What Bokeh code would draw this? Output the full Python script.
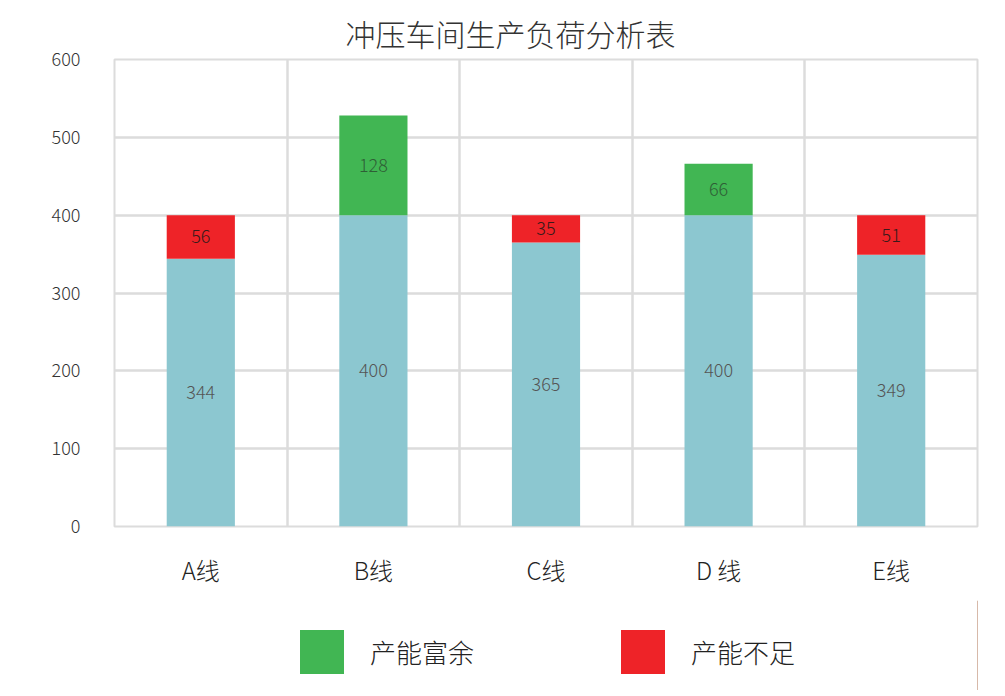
from bokeh.plotting import figure
from bokeh.models import ColumnDataSource, FixedTicker, Legend, LegendItem
from bokeh.layouts import column
from bokeh.core.properties import value
from bokeh.embed import file_html
from bokeh.resources import INLINE

lines = ["A线", "B线", "C线", "D 线", "E线"]
base = [344, 400, 365, 400, 349]
surplus = [0, 128, 0, 66, 0]
shortage = [56, 0, 35, 0, 51]
y_ticks = [0, 100, 200, 300, 400, 500, 600]
legend_labels = ["产能富余", "产能不足"]

FONT = "'Noto Sans CJK SC Light', 'Lato', 'Noto Sans CJK SC', sans-serif"
C_BASE = "#8CC7D0"
C_SUR = "#41B653"
C_SHO = "#EE2328"
GRID = "#DCDCDC"

xs = [i + 0.5 for i in range(len(lines))]

p = figure(x_range=(0, len(lines)), y_range=(0, 600),
           width=1000, height=600,
           min_border_left=114, min_border_right=23, min_border_top=59, min_border_bottom=74,
           output_backend="svg", toolbar_location=None,
           title="冲压车间生产负荷分析表")
p.title.text_font = FONT
p.title.text_font_size = "30px"
p.title.text_font_style = "normal"
p.title.text_color = "#333333"
p.title.align = "left"
p.title.offset = 231
p.title.standoff = 10

p.background_fill_color = "white"
p.border_fill_color = "white"
p.outline_line_color = GRID
p.outline_line_width = 2

# grid
p.xgrid.ticker = FixedTicker(ticks=list(range(len(lines) + 1)))
p.ygrid.ticker = FixedTicker(ticks=y_ticks)
for g in (p.xgrid, p.ygrid):
    g.grid_line_color = GRID
    g.grid_line_width = 2.5

# axes
p.xaxis.ticker = FixedTicker(ticks=xs)
p.xaxis.major_label_overrides = {x: l for x, l in zip(xs, lines)}
p.yaxis.ticker = FixedTicker(ticks=y_ticks)
for ax in (p.xaxis, p.yaxis):
    ax.axis_line_color = None
    ax.major_tick_line_color = None
    ax.minor_tick_line_color = None
    ax.major_label_text_font = FONT
p.xaxis.major_label_text_font_size = "24px"
p.xaxis.major_label_text_color = "#222222"
p.xaxis.major_label_standoff = 19
p.yaxis.major_label_text_font_size = "18px"
p.yaxis.major_label_text_color = "#333333"
p.yaxis.major_label_standoff = 28

W = 0.395
src_base = ColumnDataSource(dict(x=xs, top=base, mid=[b / 2 for b in base],
                                 lab=[str(b) for b in base]))
p.vbar(x="x", top="top", bottom=0, width=W, source=src_base, color=C_BASE, line_color=None)

sx = [x for x, s in zip(xs, surplus) if s]
sb = [b for b, s in zip(base, surplus) if s]
sv = [s for s in surplus if s]
src_sur = ColumnDataSource(dict(x=sx, bottom=sb, top=[b + s for b, s in zip(sb, sv)],
                                mid=[b + s / 2 for b, s in zip(sb, sv)], lab=[str(s) for s in sv]))
p.vbar(x="x", top="top", bottom="bottom", width=W, source=src_sur, color=C_SUR, line_color=None)

hx = [x for x, s in zip(xs, shortage) if s]
hb = [b for b, s in zip(base, shortage) if s]
hv = [s for s in shortage if s]
src_sho = ColumnDataSource(dict(x=hx, bottom=hb, top=[b + s for b, s in zip(hb, hv)],
                                mid=[b + s / 2 for b, s in zip(hb, hv)], lab=[str(s) for s in hv]))
p.vbar(x="x", top="top", bottom="bottom", width=W, source=src_sho, color=C_SHO, line_color=None)

for src, col in ((src_base, "#555555"), (src_sur, "#2f5f36"), (src_sho, "#3a1a1a")):
    p.text(x="x", y="mid", text="lab", source=src, text_align="center", text_baseline="middle",
           text_font=value(FONT), text_font_size="18px", text_color=col)

# legend strip (its frame is aligned with the chart's frame by the column layout)
q = figure(width=1000, height=90, x_range=(0, 1), y_range=(0, 1),
           min_border=0, output_backend="svg", toolbar_location=None,
           x_axis_location=None, y_axis_location=None)
q.grid.visible = False
q.xgrid.grid_line_color = None
q.ygrid.grid_line_color = None
q.outline_line_color = None
q.background_fill_color = "white"
q.border_fill_color = "white"
# legend-only renderers placed outside the visible range
lr_sur = q.vbar(x=[10], top=[1], width=0.1, color=C_SUR, line_color=None)
lr_sho = q.vbar(x=[10], top=[1], width=0.1, color=C_SHO, line_color=None)
legend = Legend(items=[LegendItem(label=legend_labels[0], renderers=[lr_sur], index=0),
                       LegendItem(label=legend_labels[1], renderers=[lr_sho], index=0)],
                orientation="horizontal", location=(180, 11),
                glyph_width=55, glyph_height=55, label_standoff=21, spacing=141,
                label_text_font=FONT, label_text_font_size="26px", label_text_color="#222222",
                border_line_color=None, background_fill_alpha=0, margin=0, padding=0)
q.add_layout(legend, "center")

open("out.html", "w").write(file_html(column(p, q, spacing=0), INLINE))
